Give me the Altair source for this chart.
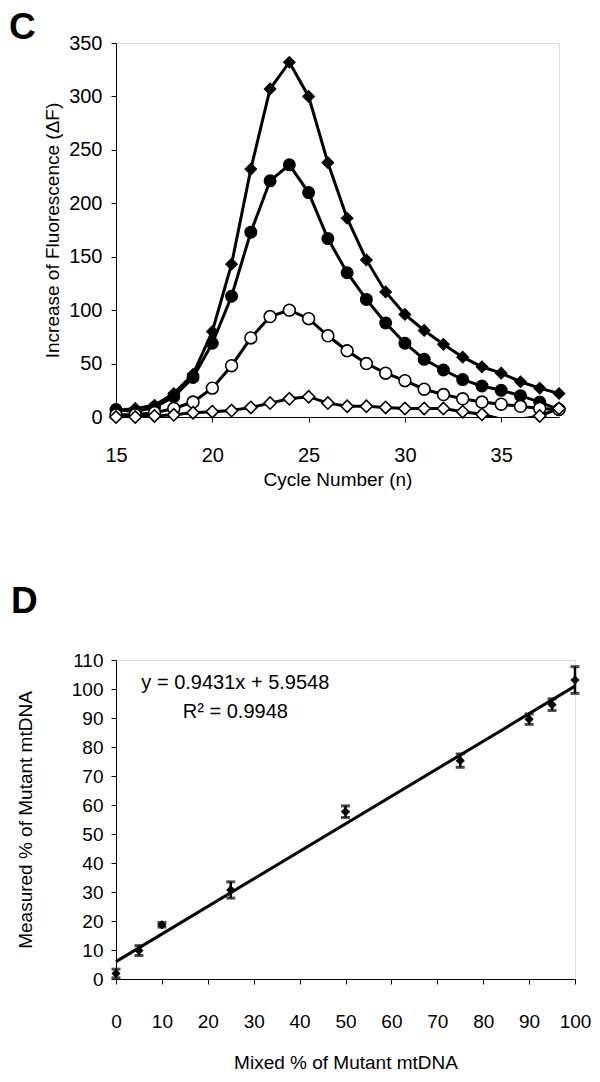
import altair as alt
import pandas as pd

FONT = "Liberation Sans"

# ---------- Panel C data ----------
cycles = list(range(15, 39))
s_filled_diamond = [6, 8, 11, 22, 40, 80, 143, 232, 307, 332, 300, 238, 186, 147, 117, 96, 81, 68, 56, 47, 41, 33, 27, 22]
s_filled_circle = [7, 5, 9, 19, 37, 69, 113, 173, 221, 236, 210, 167, 135, 110, 88, 69, 54, 44, 35, 29, 25, 20, 14, 7]
s_open_circle = [2, 2, 4, 8, 14, 27, 48, 74, 94, 100, 92, 76, 62, 50, 41, 34, 26, 21, 17, 14, 12, 10, 8, 7]
s_open_diamond = [0, 0, 1, 2, 4, 5, 6, 9, 13, 17, 19, 13, 10, 10, 9, 8, 8, 8, 5, 2.5, -2, -2, 1, 8]

series_names = ["A", "B", "C", "D"]
series_vals = [s_filled_diamond, s_filled_circle, s_open_circle, s_open_diamond]
rows = []
for order, (name, vals) in enumerate(zip(series_names, series_vals)):
    for c, v in zip(cycles, vals):
        rows.append({"cycle": c, "value": v, "series": name, "order": order})
dfc = pd.DataFrame(rows)

# ---------- Panel D data ----------
mixed = [0, 5, 10, 25, 50, 75, 90, 95, 100]
measured = [1.9, 9.8, 18.7, 30.7, 57.7, 75.3, 89.6, 94.6, 103.1]
err = [1.5, 1.7, 0.8, 2.8, 2.0, 2.3, 1.8, 2.0, 4.6]
dfd = pd.DataFrame({"mixed": mixed, "measured": measured, "err": err})
dfd["lo"] = dfd["measured"] - dfd["err"]
dfd["hi"] = dfd["measured"] + dfd["err"]

annot_text = ["y = 0.9431x + 5.9548", "R\u00b2 = 0.9948"]
annot_x = [26, 26]
annot_y = [102, 92]
dfa = pd.DataFrame({"mixed": annot_x, "measured": annot_y, "t": annot_text})

panel_c = pd.DataFrame({"t": ["C"]})
panel_d = pd.DataFrame({"t": ["D"]})


def axis(values, title, lab_fs, lab_pad, title_pad):
    return alt.Axis(values=values, title=title, labelFontSize=lab_fs, titleFontSize=19,
                    labelPadding=lab_pad, tickSize=5, titlePadding=title_pad, grid=False,
                    domainColor="black", tickColor="black", labelColor="black",
                    titleColor="black", titleFontWeight="normal", labelFont=FONT,
                    titleFont=FONT, labelFlush=False, labelOverlap=False)


def panel_letter(df, dx, dy):
    return alt.Chart(df).mark_text(fontSize=37, fontWeight="bold", font=FONT, color="black",
                                   align="left", baseline="alphabetic").encode(
        x=alt.value(dx), y=alt.value(dy), text="t:N")


# ---------- Panel C chart ----------
xc = alt.X("cycle:Q", scale=alt.Scale(domain=[15, 38], nice=False, zero=False),
           axis=axis([15, 20, 25, 30, 35], "Cycle Number (n)", 20, 23, 5))
yc = alt.Y("value:Q", scale=alt.Scale(domain=[0, 350], nice=False),
           axis=axis(list(range(0, 351, 50)), "Increase of Fluorescence (\u0394F)", 20, 9, 6))

lines = alt.Chart(dfc).mark_line(color="black", strokeWidth=3, clip=True).encode(
    x=xc, y=yc, detail="series:N", order="cycle:Q")

points = alt.Chart(dfc).transform_filter("datum.value >= 0").mark_point(
    filled=True, stroke="black", strokeWidth=1.6, opacity=1).encode(
    x=xc, y=yc,
    shape=alt.Shape("series:N", scale=alt.Scale(domain=series_names,
                    range=["diamond", "circle", "circle", "diamond"]), legend=None),
    fill=alt.Fill("series:N", scale=alt.Scale(domain=series_names,
                  range=["black", "black", "white", "white"]), legend=None),
    size=alt.Size("series:N", scale=alt.Scale(domain=series_names,
                  range=[120, 150, 130, 95]), legend=None),
    order="order:Q")

top = alt.layer(lines, points, panel_letter(panel_c, -107, -4)).properties(
    width=443, height=374)

# ---------- Panel D chart ----------
yd_axis = axis(list(range(0, 111, 10)), "Measured % of Mutant mtDNA", 19, 8, 36)
yd_scale = alt.Scale(domain=[0, 110], nice=False)
xd = alt.X("mixed:Q", scale=alt.Scale(domain=[0, 100], nice=False),
           axis=axis(list(range(0, 101, 10)), "Mixed % of Mutant mtDNA", 19, 28, 22))
yd = alt.Y("measured:Q", scale=yd_scale, axis=yd_axis)
ylo = alt.Y("lo:Q", scale=yd_scale, axis=yd_axis)
yhi = alt.Y("hi:Q", scale=yd_scale, axis=yd_axis)

reg = alt.Chart(dfd).transform_regression("mixed", "measured", extent=[0, 100]).mark_line(
    color="black", strokeWidth=3).encode(x=xd, y=yd)
bars = alt.Chart(dfd).mark_rule(color="black", strokeWidth=2.5).encode(
    x=xd, y=ylo, y2="hi:Q")
cap_lo = alt.Chart(dfd).mark_tick(color="black", orient="horizontal", size=9, thickness=3).encode(
    x=xd, y=ylo)
cap_hi = alt.Chart(dfd).mark_tick(color="black", orient="horizontal", size=9, thickness=3).encode(
    x=xd, y=yhi)
pts = alt.Chart(dfd).mark_point(shape="diamond", filled=True, color="black", size=85, opacity=1).encode(
    x=xd, y=yd)
txt = alt.Chart(dfa).mark_text(fontSize=20, font=FONT, color="black", align="center").encode(
    x=xd, y=yd, text="t:N")

bottom = alt.layer(reg, bars, cap_lo, cap_hi, pts, txt, panel_letter(panel_d, -105, -47)).properties(
    width=459, height=319)

chart = alt.vconcat(top, bottom, spacing=92).properties(
    padding=0
).configure_view(stroke="black", strokeWidth=1).configure(background="white")

chart.save("out.html", embed_options={"renderer": "svg", "actions": False})
